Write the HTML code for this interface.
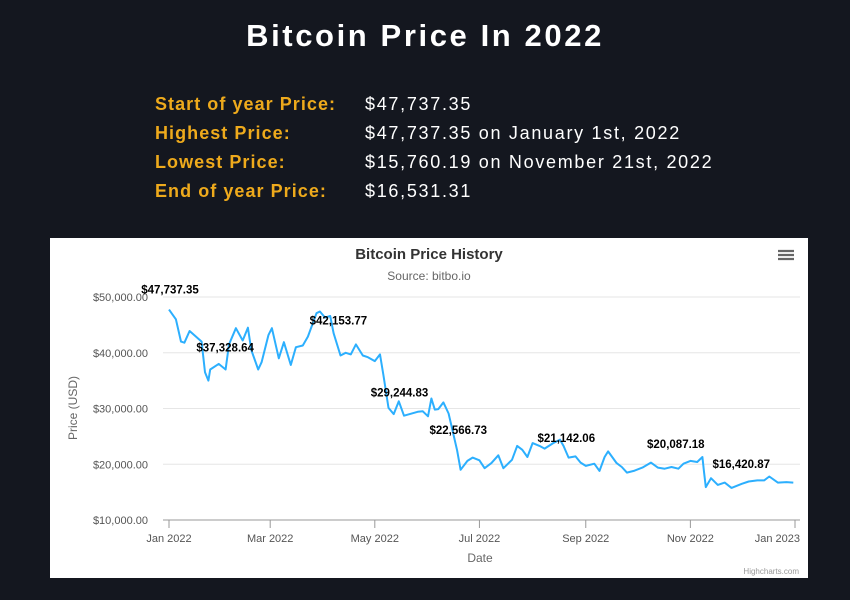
<!DOCTYPE html>
<html><head><meta charset="utf-8"><style>
body{margin:0;width:850px;height:600px;background:#14171f;font-family:"Liberation Sans",sans-serif;overflow:hidden;position:relative}
.t{position:absolute;left:0;width:850px;top:18px;text-align:center;color:#fff;font-weight:bold;font-size:31px;letter-spacing:2.6px}
.l{position:absolute;left:155px;color:#eeaa1c;font-weight:bold;font-size:18px;letter-spacing:1.05px}
.v{position:absolute;left:365px;color:#fff;font-size:18px;letter-spacing:1.7px}
#chart{position:absolute;left:50px;top:238px;width:758px;height:340px;background:#fff}
</style></head><body>
<div class="t">Bitcoin Price In 2022</div>
<div class="l" style="top:94px">Start of year Price:</div><div class="v" style="top:94px">$47,737.35</div>
<div class="l" style="top:123px">Highest Price:</div><div class="v" style="top:123px">$47,737.35 on January 1st, 2022</div>
<div class="l" style="top:152px">Lowest Price:</div><div class="v" style="top:152px">$15,760.19 on November 21st, 2022</div>
<div class="l" style="top:181px">End of year Price:</div><div class="v" style="top:181px">$16,531.31</div>
<svg id="chart" width="758" height="340" font-family="Liberation Sans, sans-serif"></svg>
<script>
const days=[0,4,7,9,12,15,19,21,23,24,29,33,35,39,43,46,48,52,54,58,60,64,67,71,74,78,81,86,88,91,94,96,100,103,106,109,113,116,120,123,125,128,131,134,137,145,148,151,153,155,157,160,163,168,170,174,177,181,184,188,192,195,200,203,206,209,212,216,219,224,228,230,233,237,240,243,248,251,254,256,261,264,267,271,276,281,285,289,293,297,300,304,308,311,312,313,316,320,324,328,334,338,343,347,350,355,360,364];
const prices=[47737,46000,42000,41800,43900,43100,42000,36500,35000,37000,38000,37000,41500,44400,42200,44500,40500,37000,38300,43200,44400,39000,41900,37800,41000,41300,42900,47100,47400,46300,46600,43500,39500,40000,39700,41500,39500,39200,38500,39700,36000,30100,29000,31300,28700,29400,29500,28600,31800,29800,29900,31100,29100,22500,19000,20600,21200,20700,19300,20200,21600,19300,20800,23300,22600,21300,23800,23300,22800,23800,24400,23300,21200,21400,20300,19700,20100,18800,21300,22300,20200,19500,18500,18800,19400,20300,19400,19200,19500,19200,20100,20600,20400,21300,18500,15900,17500,16300,16700,15760,16500,16900,17100,17100,17800,16700,16800,16700,16531];
const yTicks=[10000,20000,30000,40000,50000];
const xTickDays=[0,59,120,181,243,304,365];
const xTickLabels=["Jan 2022","Mar 2022","May 2022","Jul 2022","Sep 2022","Nov 2022","Jan 2023"];
const annDays=[0,24,83,128,164,220,306,322];
const annVals=[47737.35,37328.64,42153.77,29244.83,22566.73,21142.06,20087.18,16420.87];
const annLabels=["$47,737.35","$37,328.64","$42,153.77","$29,244.83","$22,566.73","$21,142.06","$20,087.18","$16,420.87"];
const annOffX=[1,15,27,11,8,20,-18,20];

const svg=document.getElementById('chart'),NS='http://www.w3.org/2000/svg';
const X0=119,X1=745,Y0=282,Y1=59;
const x=d=>X0+d/365*(X1-X0);
const y=v=>Y0-(v-10000)/40000*(Y0-Y1);
function mk(t,a,txt){const e=document.createElementNS(NS,t);for(const k in a)e.setAttribute(k,a[k]);if(txt!==undefined)e.textContent=txt;svg.appendChild(e);return e;}
let e;
e=mk('text',{x:379,y:21,'text-anchor':'middle','font-size':15,'font-weight':'bold',fill:'#333'},'Bitcoin Price History');


e=mk('text',{x:379,y:42,'text-anchor':'middle','font-size':12,fill:'#666'},'Source: bitbo.io');


e=mk('path',{d:'M728 13h16M728 17h16M728 21h16',stroke:'#666','stroke-width':2.2});


yTicks.forEach(v=>{
  if(v>10000){e=mk('line',{x1:113,x2:750,y1:y(v),y2:y(v),stroke:'#e6e6e6'});
  
  }
  e=mk('text',{x:98,y:y(v)+4,'text-anchor':'end','font-size':11,fill:'#555'},'$'+v.toLocaleString('en-US')+'.00');
  
  
});
e=mk('line',{x1:113,x2:750,y1:Y0,y2:Y0,stroke:'#999'});


xTickDays.forEach((d,i)=>{
  e=mk('line',{x1:x(d),x2:x(d),y1:Y0,y2:Y0+8,stroke:'#999'});
  
  
  const last=i===xTickDays.length-1;
  e=mk('text',{x:last?x(d)+5:x(d),y:Y0+22,'text-anchor':last?'end':'middle','font-size':11,fill:'#555'},xTickLabels[i]);
  
  
});
e=mk('text',{x:430,y:324,'text-anchor':'middle','font-size':12,fill:'#666'},'Date');


e=mk('text',{x:27,y:170,'text-anchor':'middle','font-size':12,fill:'#666',transform:'rotate(-90 27 170)'},'Price (USD)');


e=mk('path',{d:days.map((d,i)=>(i?'L':'M')+x(d).toFixed(1)+' '+y(prices[i]).toFixed(1)).join(''),fill:'none',stroke:'#2caffe','stroke-width':2,'stroke-linejoin':'round'});


annDays.forEach((d,i)=>{
  e=mk('text',{x:x(d)+annOffX[i],y:y(annVals[i])-16,'text-anchor':'middle','font-size':11.5,'font-weight':'bold',fill:'#000'},annLabels[i]);
  
  
});
e=mk('text',{x:749,y:336,'text-anchor':'end','font-size':8,fill:'#999'},'Highcharts.com');


</script>
</body></html>
